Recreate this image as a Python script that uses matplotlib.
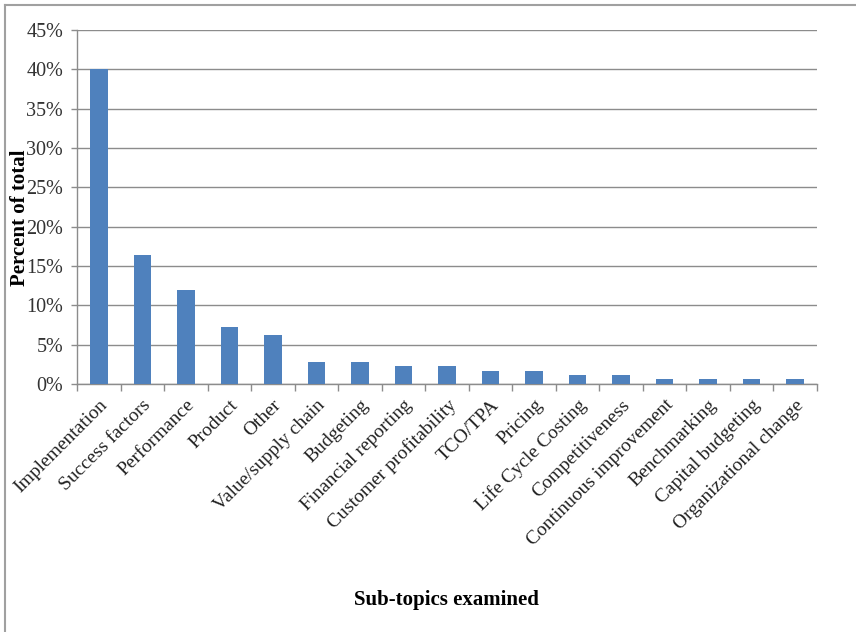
import matplotlib.pyplot as plt
import numpy as np
from matplotlib.lines import Line2D
from matplotlib.ticker import FuncFormatter, FixedLocator

plt.rcParams['font.family'] = ['Liberation Serif', 'DejaVu Serif']

# Sub-topics and their share of the total
subtopicos = ["Implementation", "Success factors", "Performance", "Product", "Other",
              "Value/supply chain", "Budgeting", "Financial reporting",
              "Customer profitability", "TCO/TPA", "Pricing", "Life Cycle Costing",
              "Competitiveness", "Continuous improvement", "Benchmarking",
              "Capital budgeting", "Organizational change"]
percentuais = [40.1, 16.4, 11.9, 7.3, 6.2, 2.8, 2.8, 2.3, 2.3, 1.7, 1.7, 1.1, 1.1,
               0.6, 0.6, 0.6, 0.6]

cinza = "#8c8c8c"
azul = "#4f81bd"

fig = plt.figure(figsize=(8.56, 6.32), dpi=100)
ax = fig.add_axes([0.09, 0.3924, 0.8644, 0.5601])

x = np.arange(len(subtopicos))
ax.bar(x, percentuais, width=0.4, color=azul, zorder=3)

ax.set_xlim(-0.5, len(subtopicos) - 0.5)
ax.set_ylim(0, 45)
ax.set_yticks(np.arange(0, 46, 5))
ax.yaxis.set_major_formatter(FuncFormatter(lambda v, p: f"{v:.0f}%"))
ax.yaxis.grid(True, color=cinza, linewidth=1.0, zorder=0)

# category labels on the bars, tick marks between categories
ax.set_xticks(x)
ax.set_xticklabels(subtopicos, rotation=45, ha="right", rotation_mode="anchor",
                   fontsize=14, color="#222222")
ax.tick_params(axis="x", which="major", length=0, pad=9)
ax.xaxis.set_minor_locator(FixedLocator(np.arange(-0.5, len(subtopicos), 1)))
ax.tick_params(axis="x", which="minor", length=5, color=cinza, width=1)
ax.tick_params(axis="y", length=4, color=cinza, width=1, labelsize=14.5,
               labelcolor="#333333", pad=6)

for lado in ["top", "right"]:
    ax.spines[lado].set_visible(False)
for lado in ["left", "bottom"]:
    ax.spines[lado].set_color(cinza)
    ax.spines[lado].set_linewidth(1.0)

ax.set_ylabel("Percent of total", fontsize=15, fontweight="bold")
ax.yaxis.set_label_coords(-0.064, 0.47)
fig.text(0.522, 0.05, "Sub-topics examined", ha="center", va="center",
         fontsize=15, fontweight="bold")

# frame lines along top and left edge
fig.add_artist(Line2D([0.006, 1.0], [0.992, 0.992], color="#a0a0a0", linewidth=1.5))
fig.add_artist(Line2D([0.006, 0.006], [0.0, 0.992], color="#a0a0a0", linewidth=1.5))

fig.savefig("out.png", dpi=100)
